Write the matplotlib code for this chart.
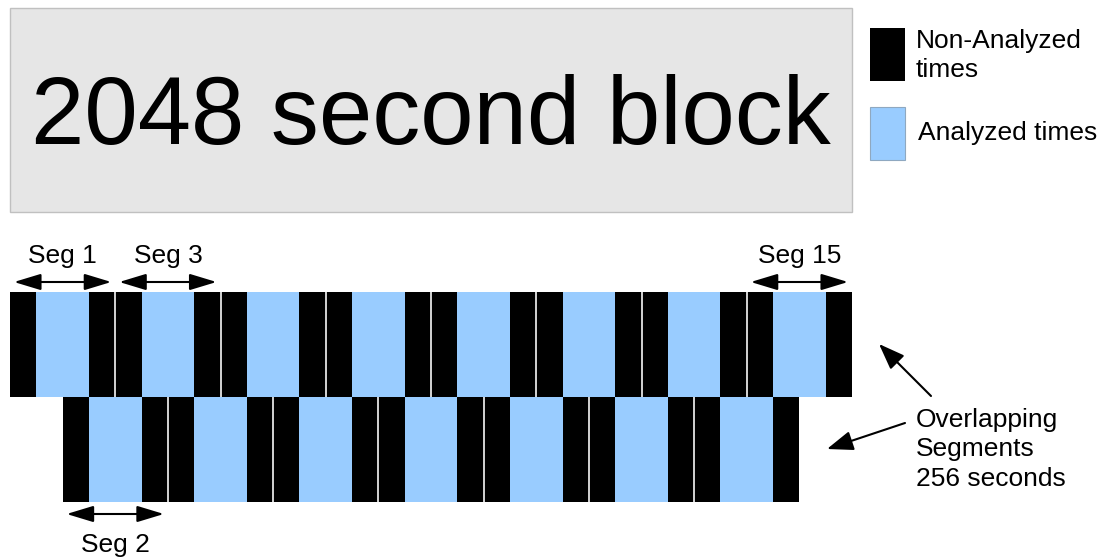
import matplotlib
matplotlib.use("Agg")
import matplotlib.pyplot as plt
from matplotlib.patches import Rectangle

plt.rcParams["font.family"] = ["Liberation Sans", "DejaVu Sans"]

# timing of the analysis (seconds)
BLOCK_LEN = 2048
SEG_LEN = 256
SEG_STRIDE = 128
# pieces of one segment: (offset, length, analyzed)
SEG_PARTS = [(0, 64, False), (64, 128, True), (192, 64, False)]
SEG_NUMBERS = [1, 2, 3, 4, 5, 6, 7, 8, 9, 10, 11, 12, 13, 14, 15]
LABELLED_SEGS = [1, 2, 3, 15]

TITLE = "2048 second block"
LEGEND_LABELS = ["Non-Analyzed", "times", "Analyzed times"]
NOTE_LINES = ["Overlapping", "Segments", "256 seconds"]

BLACK = "#000000"
BLUE = "#99ccff"
GREY_BOX = "#e6e6e6"

# pixel layout helpers (x axis is in seconds, y axis in pixels)
X0_PX = 10
PX_PER_S = 842 / BLOCK_LEN
ROW_H = 105
ROW_TOP = {1: 292, 0: 397}  # odd segments on top, even below
FS = 19


def xs(px):
    return (px - X0_PX) / PX_PER_S


fig = plt.figure(figsize=(11.01, 5.59), dpi=100)
ax = fig.add_axes([0, 0, 1, 1])
ax.set_xlim(xs(0), xs(1101))
ax.set_ylim(559, 0)
ax.axis("off")

# title block
ax.add_patch(Rectangle((0, 8), BLOCK_LEN, 204, facecolor=GREY_BOX,
                       edgecolor="#c0c0c0", lw=1.0))
ax.text(BLOCK_LEN / 2, 144, TITLE, fontsize=69, ha="center", va="baseline")

# segments
for n in SEG_NUMBERS:
    start = (n - 1) * SEG_STRIDE
    y0 = ROW_TOP[n % 2]
    for off, length, analyzed in SEG_PARTS:
        ax.add_patch(Rectangle((start + off, y0), length, ROW_H,
                               facecolor=BLUE if analyzed else BLACK,
                               edgecolor="none"))
    if n > 2:
        ax.vlines(start, y0, y0 + ROW_H, color="#d4d4d4", lw=1.4)

inset = 4 / PX_PER_S
arrow_style = dict(arrowstyle="<|-|>,head_length=1.65,head_width=0.5",
                   mutation_scale=10, lw=1.5, color="black",
                   shrinkA=0, shrinkB=0)
for n in LABELLED_SEGS:
    start = (n - 1) * SEG_STRIDE
    mid = start + SEG_LEN / 2
    top = n % 2 == 1
    ay = 282 if top else 514
    ty = 263 if top else 552
    ax.annotate("", xy=(start + SEG_LEN - inset, ay),
                xytext=(start + inset, ay), arrowprops=arrow_style)
    ax.text(mid, ty, f"Seg {n}", fontsize=FS, ha="center", va="baseline")

# legend
ax.add_patch(Rectangle((xs(870), 28), xs(905) - xs(870), 53,
                       facecolor=BLACK, edgecolor="none"))
ax.add_patch(Rectangle((xs(870), 107), xs(905) - xs(870), 53,
                       facecolor=BLUE, edgecolor="#8fa8c0", lw=0.8))
ax.text(xs(916), 48, LEGEND_LABELS[0], fontsize=FS, va="baseline")
ax.text(xs(916), 77, LEGEND_LABELS[1], fontsize=FS, va="baseline")
ax.text(xs(918), 140, LEGEND_LABELS[2], fontsize=FS, va="baseline")

# overlap note
for line, base in zip(NOTE_LINES, [427, 456, 486]):
    ax.text(xs(916), base, line, fontsize=FS, va="baseline")

note_arrow = dict(arrowstyle="-|>,head_length=1.6,head_width=0.6",
                  mutation_scale=10, lw=1.5, color="black",
                  shrinkA=0, shrinkB=0)
ax.annotate("", xy=(xs(879), 344), xytext=(xs(931), 396), arrowprops=note_arrow)
ax.annotate("", xy=(xs(827), 449), xytext=(xs(905), 423), arrowprops=note_arrow)

fig.savefig("out.png", dpi=100)
